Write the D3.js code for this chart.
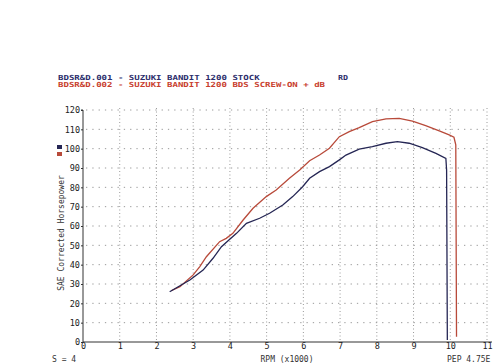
<!DOCTYPE html>
<html>
<head>
<meta charset="utf-8">
<script src="https://cdn.jsdelivr.net/npm/d3@7"></script>
<style>
  body { margin: 0; background: #fff; }
  text { font-family: "DejaVu Sans Mono", "Liberation Mono", monospace; }
</style>
</head>
<body>
<svg class="chart"></svg>
<script>
// rpm (x1000) and SAE corrected hp
var stockRpm = [2.36, 2.64, 2.91, 3.27, 3.54, 3.77, 3.95, 4.18, 4.45, 4.81, 5.08, 5.44, 5.71, 5.98, 6.17, 6.44, 6.71, 6.98, 7.16, 7.52, 7.88, 8.25, 8.56, 8.88, 9.24, 9.61, 9.88, 9.90, 9.92];
var stockHp  = [26.0, 29.1, 32.1, 37.2, 43.3, 49.3, 52.4, 56.2, 61.4, 64.0, 66.6, 70.9, 75.2, 80.3, 84.7, 88.1, 90.7, 94.2, 96.7, 99.8, 101.0, 102.8, 103.6, 102.8, 100.5, 97.6, 95.0, 89.0, 1.0];

var modRpm = [2.40, 2.64, 3.00, 3.18, 3.36, 3.72, 3.90, 4.08, 4.36, 4.63, 4.99, 5.26, 5.62, 5.90, 6.17, 6.44, 6.71, 6.98, 7.25, 7.52, 7.88, 8.25, 8.61, 8.97, 9.33, 9.70, 9.97, 10.10, 10.15, 10.17];
var modHp  = [26.5, 28.6, 34.7, 39.0, 44.1, 51.9, 53.6, 56.2, 63.1, 69.2, 75.2, 78.6, 84.7, 89.0, 93.8, 96.7, 100.2, 106.2, 108.8, 110.9, 114.0, 115.4, 115.7, 114.3, 111.9, 109.2, 107.1, 105.9, 102.0, 2.7];

var xTicks = [0, 1, 2, 3, 4, 5, 6, 7, 8, 9, 10, 11];
var yTicks = [0, 10, 20, 30, 40, 50, 60, 70, 80, 90, 100, 110, 120];

var titles = [
  {text: "BDSR&D.001 - SUZUKI BANDIT 1200 STOCK", color: "#2b2d6b"},
  {text: "BDSR&D.002 - SUZUKI BANDIT 1200 BDS SCREW-ON + dB", color: "#c8402e"}
];

var svgWidth = 500, svgHeight = 364;
var navy = "#252654", red = "#b84a3a", ink = "#333";

var svg = d3.select(".chart")
  .attr("width", svgWidth)
  .attr("height", svgHeight);

var x = d3.scaleLinear().domain([0, 11]).range([83, 487]);
var y = d3.scaleLinear().domain([0, 120]).range([342, 110]);

// dotted grid
svg.append("g").selectAll("line")
  .data(yTicks.slice(1))
  .enter().append("line")
  .attr("x1", x(0) + 3).attr("x2", x(11) + 2)
  .attr("y1", d => y(d)).attr("y2", d => y(d))
  .attr("stroke", "#9a9a9a").attr("stroke-width", 1)
  .attr("stroke-dasharray", "1.3,5");

svg.append("g").selectAll("line")
  .data(xTicks.slice(1))
  .enter().append("line")
  .attr("x1", d => x(d)).attr("x2", d => x(d))
  .attr("y1", y(120) - 2).attr("y2", y(0))
  .attr("stroke", "#9a9a9a").attr("stroke-width", 1)
  .attr("stroke-dasharray", "1,2.5");

// axes
var yAxis = d3.axisLeft(y).tickValues(yTicks).tickSize(2).tickPadding(1);
var gy = svg.append("g").attr("transform", "translate(" + x(0) + ",0)").call(yAxis);
gy.select(".domain").attr("stroke", ink).attr("d", "M-2," + y(120) + "H0V" + y(0));
gy.selectAll("line").attr("stroke", ink);
gy.selectAll("text").attr("font-size", 8.5).attr("fill", "#222").attr("dy", "0.35em");

var xAxis = d3.axisBottom(x).tickValues(xTicks).tickSize(0).tickPadding(2);
var gx = svg.append("g").attr("transform", "translate(0," + y(0) + ")").call(xAxis);
gx.select(".domain").attr("stroke", ink).attr("d", "M" + x(0) + ",0H" + (x(11) + 5));
gx.selectAll("text").attr("font-size", 8.5).attr("fill", "#222").attr("dy", "0.6em");

// curves
var line = d3.line().x(d => x(d[0])).y(d => y(d[1]));
var stock = d3.zip(stockRpm, stockHp);
var mod = d3.zip(modRpm, modHp);

svg.append("path").datum(mod)
  .attr("d", line).attr("fill", "none")
  .attr("stroke", red).attr("stroke-width", 1.3);
svg.append("path").datum(stock)
  .attr("d", line).attr("fill", "none")
  .attr("stroke", navy).attr("stroke-width", 1.3);

// header text
svg.selectAll(".title")
  .data(titles)
  .enter().append("text")
  .attr("class", "title")
  .attr("x", 58).attr("y", (d, i) => 79.5 + i * 7.5)
  .attr("font-size", 7).attr("font-weight", "bold").attr("fill", d => d.color)
  .attr("textLength", d => d.text.length * 5.45)
  .attr("lengthAdjust", "spacingAndGlyphs")
  .text(d => d.text);

svg.append("text").attr("x", 338).attr("y", 79.5)
  .attr("font-size", 7).attr("font-weight", "bold").attr("fill", "#2b2d6b")
  .attr("textLength", 10).attr("lengthAdjust", "spacingAndGlyphs")
  .text("RD");

// y title + legend swatches
svg.append("text")
  .attr("transform", "translate(64,233) rotate(-90)")
  .attr("text-anchor", "middle").attr("font-size", 8).attr("fill", "#333")
  .attr("font-family", "Liberation Sans, Arial, sans-serif")
  .text("SAE Corrected Horsepower");

svg.append("rect").attr("x", 57).attr("y", 145).attr("width", 5).attr("height", 4).attr("fill", navy);
svg.append("rect").attr("x", 57).attr("y", 152).attr("width", 5).attr("height", 4).attr("fill", red);

// footer text
svg.append("text").attr("x", 287).attr("y", 362).attr("text-anchor", "middle")
  .attr("font-size", 8).attr("fill", "#333").text("RPM (x1000)");
svg.append("text").attr("x", 447).attr("y", 362)
  .attr("font-size", 8).attr("fill", "#333").text("PEP 4.75E");
svg.append("text").attr("x", 52).attr("y", 362)
  .attr("font-size", 8).attr("fill", "#333").text("S = 4");
</script>
</body>
</html>
